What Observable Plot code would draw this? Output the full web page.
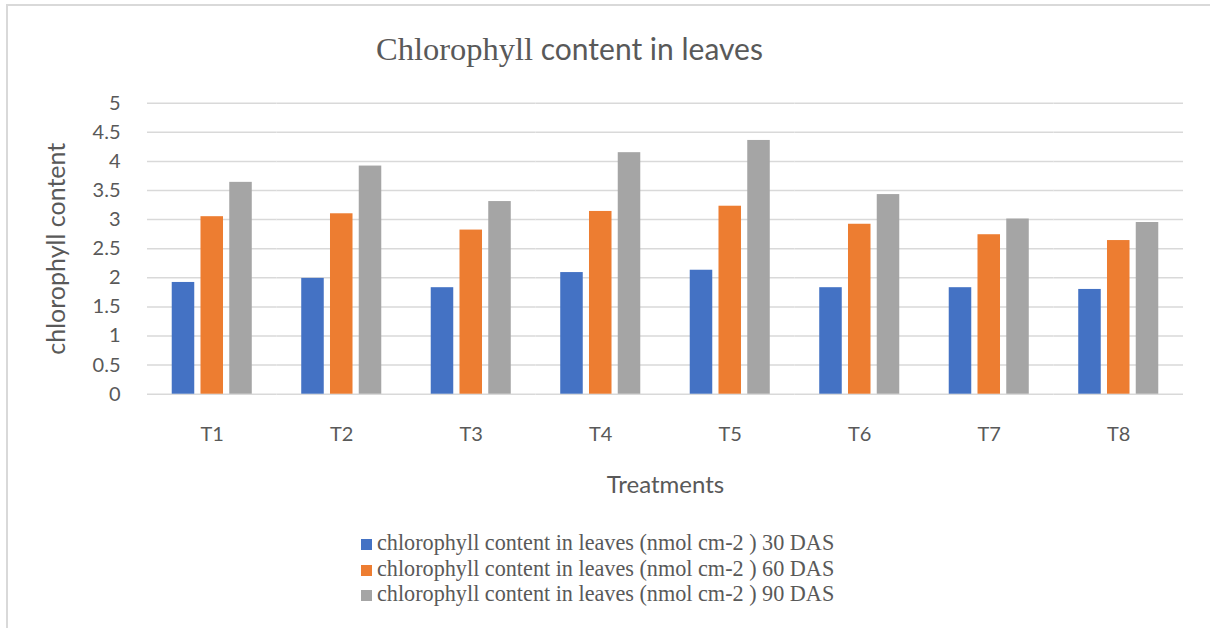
<!DOCTYPE html>
<html>
<head>
<meta charset="utf-8">
<script src="https://cdn.jsdelivr.net/npm/d3@7"></script>
<script src="https://cdn.jsdelivr.net/npm/@observablehq/plot@0.6"></script>
<style>
  html, body { margin: 0; padding: 0; background: #fff; }
  #frame { position: relative; width: 1210px; height: 628px; overflow: hidden; background: #fff; }
  #border { position: absolute; left: 6px; top: 4px; width: 1220px; height: 640px;
            border-top: 2px solid #d9d9d9; border-left: 2px solid #d9d9d9; }
  #title { position: absolute; left: 376px; top: 28px; white-space: nowrap; color: #595959; line-height: 40px; }
  #title .serif { font-family: "Liberation Serif", serif; font-size: 32.5px; }
  #title .sans { font-family: Lato, sans-serif; font-size: 30px; }
  #chart { position: absolute; left: 0; top: 80px; }
  #legend { position: absolute; left: 361px; top: 530px; font-family: "Liberation Serif", serif;
            font-size: 22.2px; color: #595959; line-height: 25.5px; }
  #legend .row { white-space: nowrap; }
  #legend .sw { display: inline-block; width: 11px; height: 11px; margin-right: 5px; vertical-align: 0px; }
  #chart svg [aria-label="y-axis label"] { font-size: 25px; }
  #chart svg [aria-label="fx-axis label"] { font-size: 24px; }
</style>
</head>
<body>
<div id="frame">
  <div id="border"></div>
  <div id="title"><span class="serif">Chlorophyll</span><span class="sans"> content in leaves</span></div>
  <div id="chart"></div>
  <div id="legend"></div>
</div>
<script>
const treatments = ["T1", "T2", "T3", "T4", "T5", "T6", "T7", "T8"];
const seriesNames = [
  "chlorophyll content in leaves (nmol cm-2 ) 30 DAS",
  "chlorophyll content in leaves (nmol cm-2 ) 60 DAS",
  "chlorophyll content in leaves (nmol cm-2 ) 90 DAS"
];
const das30 = [1.92, 1.99, 1.83, 2.09, 2.13, 1.83, 1.83, 1.80];
const das60 = [3.05, 3.10, 2.82, 3.14, 3.23, 2.92, 2.74, 2.64];
const das90 = [3.64, 3.92, 3.31, 4.15, 4.36, 3.43, 3.01, 2.95];
const yTicks = [0, 0.5, 1, 1.5, 2, 2.5, 3, 3.5, 4, 4.5, 5];
const colors = ["#4472C4", "#ED7D31", "#A5A5A5"];

const seriesValues = [das30, das60, das90];
const rows = treatments.flatMap((t, i) =>
  seriesValues.map((vals, j) => ({treatment: t, series: seriesNames[j], value: vals[i]}))
);

const chart = Plot.plot({
  width: 1210,
  height: 430,
  marginTop: 22.7,
  marginBottom: 116.3,
  marginLeft: 147,
  marginRight: 27,
  style: {fontFamily: "Lato, sans-serif", color: "#595959", background: "transparent", fontSize: "20px"},
  fx: {domain: treatments, padding: 0, round: false},
  x: {domain: seriesNames, paddingInner: 0.217, paddingOuter: 0.86, round: false, axis: null},
  y: {domain: [0, 5]},
  color: {domain: seriesNames, range: colors},
  marks: [
    Plot.gridY(yTicks, {stroke: "#d9d9d9", strokeOpacity: 1, strokeWidth: 1.5}),
    Plot.barY(rows, {fx: "treatment", x: "series", y: "value", fill: "series"}),
    Plot.axisY(yTicks, {tickSize: 0, tickPadding: 27, tickFormat: d => String(d),
      label: "chlorophyll content", labelArrow: "none", labelAnchor: "center", labelOffset: 100, fontSize: 20}),
    Plot.axisFx({anchor: "bottom", tickSize: 0, tickPadding: 33,
      label: "Treatments", labelArrow: "none", labelAnchor: "center", labelOffset: 99, fontSize: 20})
  ]
});
document.getElementById("chart").appendChild(chart);

const legend = document.getElementById("legend");
seriesNames.forEach((name, i) => {
  const row = document.createElement("div");
  row.className = "row";
  const sw = document.createElement("span");
  sw.className = "sw";
  sw.style.background = colors[i];
  row.appendChild(sw);
  row.appendChild(document.createTextNode(name));
  legend.appendChild(row);
});
</script>
</body>
</html>
